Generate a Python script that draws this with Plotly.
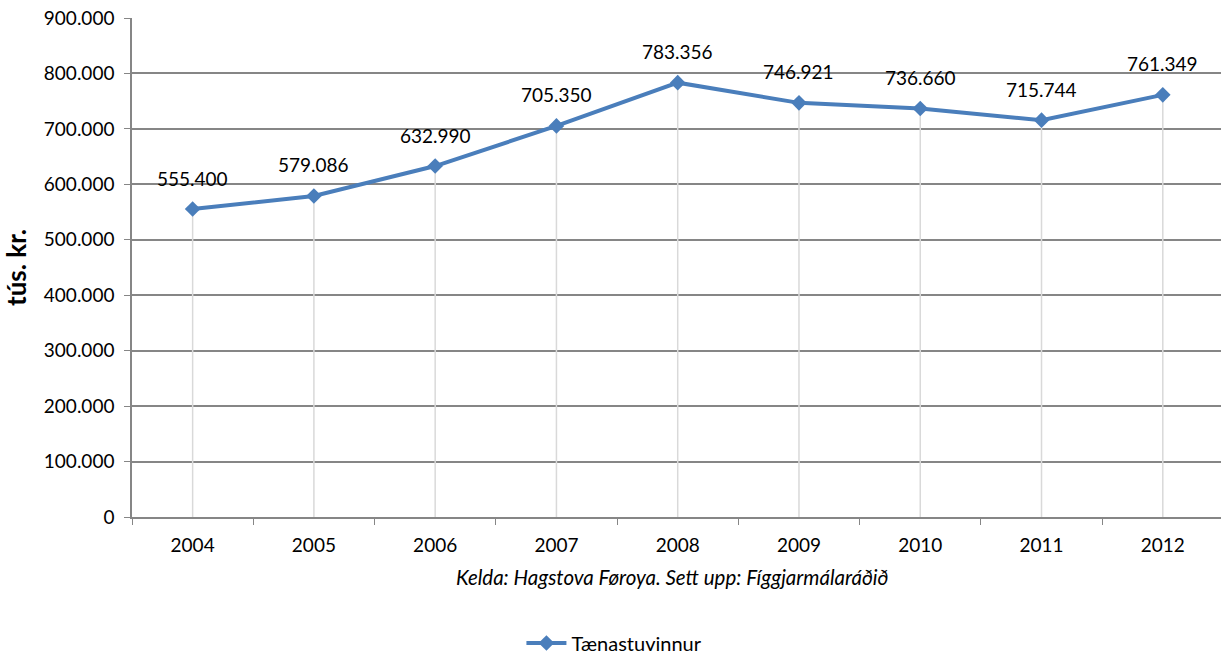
import plotly.graph_objects as go

years = ["2004", "2005", "2006", "2007", "2008", "2009", "2010", "2011", "2012"]
values = [555400, 579086, 632990, 705350, 783356, 746921, 736660, 715744, 761349]
series_name = "Tænastuvinnur"
y_title = "tús. kr."
source = "Kelda: Hagstova Føroya. Sett upp: Fíggjarmálaráðið"

LINE_COLOR = "#4a7ebb"
AXIS_COLOR = "#868686"
FONT = "Lato, 'Open Sans', sans-serif"


def fmt(v):
    return f"{v:,}".replace(",", ".")


fig = go.Figure()

# drop lines from each point down to zero
dx, dy = [], []
for yr, v in zip(years, values):
    dx.extend([yr, yr, None])
    dy.extend([0, v, None])
fig.add_trace(go.Scatter(
    x=dx, y=dy, mode="lines",
    line=dict(color="#d9d9d9", width=1.5),
    hoverinfo="skip", showlegend=False,
))

fig.add_trace(go.Scatter(
    x=years, y=values, name=series_name,
    mode="lines+markers",
    line=dict(color=LINE_COLOR, width=4),
    marker=dict(symbol="diamond", size=12, color=LINE_COLOR),
))

# data labels (x given as category index)
for i, v in enumerate(values):
    fig.add_annotation(
        x=i, y=v, text=fmt(v), showarrow=False,
        yshift=31, font=dict(size=19, color="#000000", family=FONT),
    )

fig.add_annotation(
    x=0.496, y=-0.12, xref="paper", yref="paper", yanchor="middle",
    text=f"<i>{source}</i>", showarrow=False,
    font=dict(size=20.5, color="#000000", family=FONT),
)

fig.update_layout(
    width=1221, height=655,
    separators=",.",
    paper_bgcolor="white", plot_bgcolor="white",
    # the original chart runs a little past the right edge of the picture
    margin=dict(l=132, r=0, t=18, b=138, autoexpand=False),
    font=dict(family=FONT, size=19, color="#000000"),
    xaxis=dict(
        type="category", range=[-0.5, 8.48], automargin=False,
        showgrid=False, showline=True, linecolor=AXIS_COLOR, linewidth=1.5,
        ticks="outside", tickson="boundaries", ticklen=6, tickcolor=AXIS_COLOR,
        tickfont=dict(size=19), ticklabelstandoff=10,
    ),
    yaxis=dict(
        range=[0, 900000], dtick=100000, tickformat=",d", automargin=False,
        showgrid=True, gridcolor=AXIS_COLOR, gridwidth=1.5,
        showline=True, linecolor=AXIS_COLOR, linewidth=1.5,
        ticks="outside", ticklen=6, tickcolor=AXIS_COLOR,
        tickfont=dict(size=19), zeroline=False, ticklabelstandoff=6,
        title=dict(text=f"<b>{y_title}</b>", font=dict(size=26), standoff=10),
    ),
    showlegend=True,
    legend=dict(
        orientation="h", x=0.443, xanchor="center", y=-0.2525, yanchor="middle",
        font=dict(size=20), itemwidth=40,
    ),
)

# the page has a default body margin; drop it so the figure sits at 0,0
fig.write_html("out.html", config={"displayModeBar": False},
               post_script="document.body.style.margin='0';")
